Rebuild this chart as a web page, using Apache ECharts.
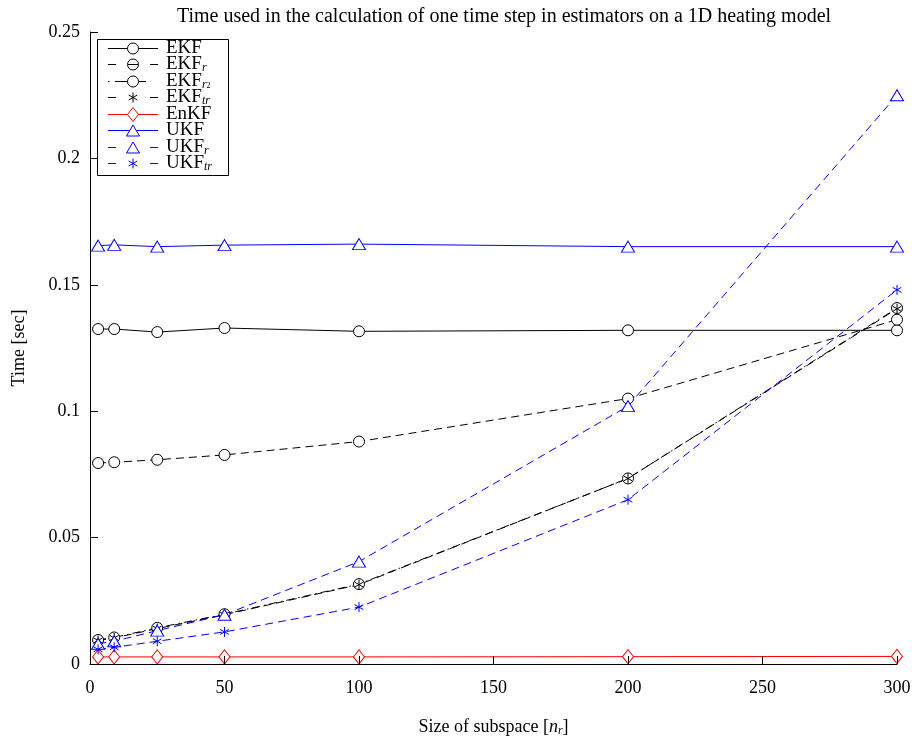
<!DOCTYPE html>
<html>
<head>
<meta charset="utf-8">
<title>Estimator timing</title>
<script src="https://cdn.jsdelivr.net/npm/echarts@6/dist/echarts.min.js"></script>
<style>
  html, body { margin: 0; padding: 0; background: #fff; }
  #chart { width: 918px; height: 742px; }
</style>
</head>
<body>
<div id="chart"></div>
<script>
// Subspace sizes n_r
const subspace = [3, 9, 25, 50, 100, 200, 300];

// Time per step [sec] for each estimator
const ekf    = [0.1325, 0.1325, 0.1313, 0.1329, 0.1316, 0.1320, 0.1320];
const ekfR   = [0.0795, 0.0798, 0.0808, 0.0827, 0.0880, 0.1050, 0.1362];
const ekfR2  = [0.0095, 0.0105, 0.0143, 0.0197, 0.0316, 0.0734, 0.1408];
const ekfTr  = [0.0093, 0.0103, 0.0140, 0.0195, 0.0314, 0.0734, 0.1405];
const enkf   = [0.0028, 0.0028, 0.0028, 0.0028, 0.0028, 0.0029, 0.0030];
const ukf    = [0.1655, 0.1658, 0.1651, 0.1657, 0.1661, 0.1651, 0.1651];
const ukfR   = [0.0080, 0.0090, 0.0132, 0.0195, 0.0405, 0.1020, 0.2250];
const ukfTr  = [0.0058, 0.0066, 0.0090, 0.0127, 0.0225, 0.0650, 0.1480];

const yTicks = [0, 0.05, 0.1, 0.15, 0.2, 0.25];
const xTicks = [0, 50, 100, 150, 200, 250, 300];

// legend labels (rich text, with subscripts)
const legendLabels = [
  '{n|EKF}',
  '{n|EKF}{s|r}',
  '{n|EKF}{s|r}{ss|2}',
  '{n|EKF}{s|tr}',
  '{n|EnKF}',
  '{n|UKF}',
  '{n|UKF}{s|r}',
  '{n|UKF}{s|tr}'
];

const FONT = 'Liberation Serif';
const BLACK = '#000000';
const BLUE = '#0000ff';
const RED = '#ff0000';

// six-armed star drawn as strokes only
const ASTERISK = 'path://M0,-1L0,1M-0.866,-0.5L0.866,0.5M-0.866,0.5L0.866,-0.5';

const DASH = [8, 5];
const DASHDOT = [8, 4, 1.5, 4];

// name, values, colour, line type, marker, marker size, legend line style
const defs = [
  ['EKF',   ekf,   BLACK, 'solid', 'circle',   11,       'solid'],
  ['EKFr',  ekfR,  BLACK, DASH,    'circle',   11,       'dashThrough'],
  ['EKFr2', ekfR2, BLACK, DASHDOT, 'circle',   11,       'dashdot'],
  ['EKFtr', ekfTr, BLACK, DASH,    ASTERISK,   10,       'dash'],
  ['EnKF',  enkf,  RED,   'solid', 'diamond',  [11, 14], 'solid'],
  ['UKF',   ukf,   BLUE,  'solid', 'triangle', [13, 11], 'solid'],
  ['UKFr',  ukfR,  BLUE,  DASH,    'triangle', [13, 11], 'dash'],
  ['UKFtr', ukfTr, BLUE,  DASH,    ASTERISK,   10,       'dash']
];

function pairs(vals) {
  return subspace.map((x, i) => [x, vals[i]]);
}

const series = defs.map(([name, vals, color, lineType, symbol, size]) => ({
  name: name,
  type: 'line',
  data: pairs(vals),
  symbol: symbol,
  symbolSize: size,
  symbolKeepAspect: true,
  showAllSymbol: true,
  color: color,
  lineStyle: { color: color, width: 1, type: lineType },
  itemStyle: { color: '#ffffff', borderColor: color, borderWidth: 1 },
  emphasis: { disabled: true },
  z: 3
}));

// ---- legend box (sample line + marker + label per series) ----
function seg(x1, x2, y, color) {
  return { type: 'line', z: 101, shape: { x1: x1, y1: y, x2: x2, y2: y }, style: { stroke: color, lineWidth: 1 } };
}

function marker(kind, cx, cy, color) {
  const st = { fill: '#ffffff', stroke: color, lineWidth: 1 };
  if (kind === 'circle') {
    return [{ type: 'circle', z: 102, shape: { cx: cx, cy: cy, r: 5.5 }, style: st }];
  }
  if (kind === 'triangle') {
    return [{ type: 'polygon', z: 102, shape: { points: [[cx - 6.5, cy + 5.5], [cx + 6.5, cy + 5.5], [cx, cy - 5.5]] }, style: st }];
  }
  if (kind === 'diamond') {
    return [{ type: 'polygon', z: 102, shape: { points: [[cx, cy - 7], [cx + 5.5, cy], [cx, cy + 7], [cx - 5.5, cy]] }, style: st }];
  }
  // asterisk
  const r = 5;
  return [
    { type: 'line', z: 102, shape: { x1: cx, y1: cy - r, x2: cx, y2: cy + r }, style: { stroke: color, lineWidth: 1 } },
    { type: 'line', z: 102, shape: { x1: cx - 0.866 * r, y1: cy - 0.5 * r, x2: cx + 0.866 * r, y2: cy + 0.5 * r }, style: { stroke: color, lineWidth: 1 } },
    { type: 'line', z: 102, shape: { x1: cx - 0.866 * r, y1: cy + 0.5 * r, x2: cx + 0.866 * r, y2: cy - 0.5 * r }, style: { stroke: color, lineWidth: 1 } }
  ];
}

const legendRich = {
  n: { fontFamily: FONT, fontSize: 19, fill: '#000', lineHeight: 16 },
  s: { fontFamily: FONT, fontSize: 12, fontStyle: 'italic', fill: '#000', lineHeight: 10, padding: [6, 0, 0, 0] },
  ss: { fontFamily: FONT, fontSize: 8, fill: '#000', lineHeight: 7, padding: [9, 0, 0, 0] }
};

const legendChildren = [
  { type: 'rect', z: 100, shape: { x: 0.5, y: 0.5, width: 131, height: 136 }, style: { fill: '#ffffff', stroke: '#000', lineWidth: 1 } }
];

defs.forEach(([name, , color, , symbol, , legendLine], i) => {
  const cy = Math.round(8.5 + 16.5 * i) + 0.5;
  const cx = 36;
  const kind = symbol === ASTERISK ? 'asterisk' : symbol;
  if (legendLine === 'solid') {
    legendChildren.push(seg(11, 61, cy, color));
  } else if (legendLine === 'dashdot') {
    legendChildren.push(seg(11, 12.5, cy, color), seg(18, 31, cy, color), seg(41, 49, cy, color));
  } else {
    legendChildren.push(seg(11, 19, cy, color), seg(53, 61, cy, color));
  }
  legendChildren.push(...marker(kind, cx, cy, color));
  if (legendLine === 'dashThrough') {
    legendChildren.push(Object.assign(seg(31, 41, cy, color), { z: 103 }));
  }
  legendChildren.push({
    type: 'text', z: 103, x: 69, y: cy,
    style: { text: legendLabels[i], rich: legendRich, fill: '#000', fontFamily: FONT, fontSize: 19, verticalAlign: 'middle' }
  });
});

const chart = echarts.init(document.getElementById('chart'), null, { renderer: 'canvas' });

chart.setOption({
  animation: false,
  backgroundColor: '#ffffff',
  title: {
    text: 'Time used in the calculation of one time step in estimators on a 1D heating model',
    left: 499,
    textAlign: 'center',
    top: 2,
    textStyle: { fontFamily: FONT, fontSize: 20, fontWeight: 'normal', color: '#000' }
  },
  grid: { left: 90, right: 21, top: 32, bottom: 74, containLabel: false },
  graphic: [{ type: 'group', x: 97, y: 39, z: 100, children: legendChildren }],
  xAxis: {
    type: 'value',
    min: 0,
    max: 300,
    interval: 50,
    z: 10,
    name: '{a|Size of subspace [}{i|n}{s|r}{a|]}',
    nameLocation: 'middle',
    nameGap: 53,
    nameTextStyle: {
      rich: {
        a: { fontFamily: FONT, fontSize: 18, color: '#000', lineHeight: 20 },
        i: { fontFamily: FONT, fontSize: 18, fontStyle: 'italic', color: '#000', lineHeight: 20 },
        s: { fontFamily: FONT, fontSize: 12, fontStyle: 'italic', color: '#000', lineHeight: 20, padding: [8, 0, 0, 0] }
      }
    },
    axisLine: { show: true, onZero: false, lineStyle: { color: '#000', width: 1 } },
    axisTick: { show: true, inside: true, length: 8, lineStyle: { color: '#000' } },
    axisLabel: {
      margin: 15,
      fontFamily: FONT, fontSize: 18, color: '#000',
      formatter: v => xTicks.indexOf(v) >= 0 ? String(v) : ''
    },
    splitLine: { show: false }
  },
  yAxis: {
    type: 'value',
    min: 0,
    max: 0.25,
    interval: 0.05,
    z: 10,
    name: 'Time [sec]',
    nameLocation: 'middle',
    nameGap: 62,
    nameTextStyle: { fontFamily: FONT, fontSize: 18, color: '#000' },
    axisLine: { show: true, onZero: false, lineStyle: { color: '#000', width: 1 } },
    axisTick: { show: true, inside: true, length: 8, lineStyle: { color: '#000' } },
    axisLabel: {
      margin: 10,
      fontFamily: FONT, fontSize: 18, color: '#000',
      formatter: v => {
        const t = yTicks.find(y => Math.abs(y - v) < 1e-9);
        return t === undefined ? '' : String(t);
      }
    },
    splitLine: { show: false }
  },
  series: series
});
</script>
</body>
</html>
